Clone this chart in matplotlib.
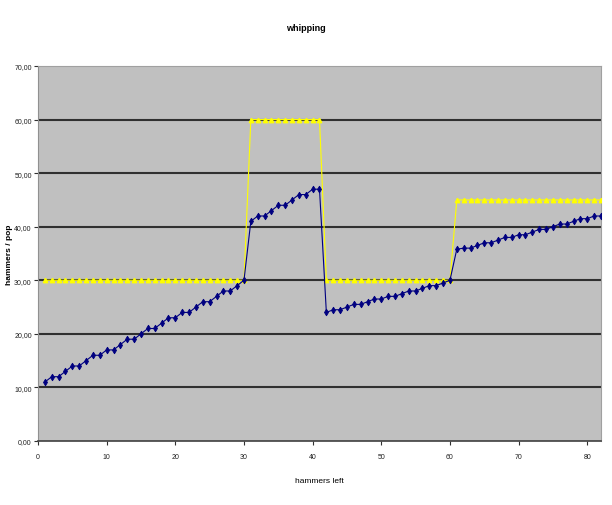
import matplotlib.pyplot as plt
from matplotlib.ticker import FuncFormatter


hammers_left = list(range(1, 83))

pop = [
    11, 12, 12, 13, 14, 14, 15, 16, 16, 17,
    17, 18, 19, 19, 20, 21, 21, 22, 23, 23,
    24, 24, 25, 26, 26, 27, 28, 28, 29, 30,
    41, 42, 42, 43, 44, 44, 45, 46, 46, 47, 47,
    24, 24.5, 24.5, 25, 25.5, 25.5, 26, 26.5, 26.5, 27,
    27, 27.5, 28, 28, 28.5, 29, 29, 29.5, 30,
    35.8, 36, 36, 36.5, 37, 37, 37.5, 38, 38, 38.5, 38.5,
    39, 39.5, 39.5, 40, 40.5, 40.5, 41, 41.5, 41.5, 42, 42,
]

limit = [30] * 30 + [60] * 11 + [30] * 19 + [45] * 22

FONT = ['Liberation Sans Narrow', 'Liberation Sans', 'DejaVu Sans']


def comma_fmt(v, pos):
    return f'{v:.2f}'.replace('.', ',')


fig = plt.figure(figsize=(6.12, 5.06), dpi=100)
ax = fig.add_axes([0.0621, 0.1265, 0.9199, 0.7411])
ax.set_facecolor('#c0c0c0')

ax.plot(hammers_left, limit, color='#ffff00', lw=0.8,
        marker='^', ms=3.2, mec='#ffff00', mfc='#ffff00', zorder=3)
ax.plot(hammers_left, pop, color='#000080', lw=0.8,
        marker='d', ms=3.4, mew=0.6, mec='#000080', mfc='#000080', zorder=4)

ax.set_xlim(0, 82)
ax.set_ylim(0, 70)
ax.set_xticks(range(0, 81, 10))
ax.set_yticks(range(0, 71, 10))
ax.yaxis.set_major_formatter(FuncFormatter(comma_fmt))

for y in range(10, 70, 10):
    ax.axhline(y, color='#303030', lw=1.5, zorder=1)

for side in ['top', 'right']:
    ax.spines[side].set_color('#a0a0a0')
ax.spines['left'].set_color('#909090')
ax.spines['bottom'].set_color('#404040')
ax.spines['bottom'].set_linewidth(1.2)

ax.tick_params(axis='both', direction='out', length=3, width=0.8,
               colors='#303030', labelsize=5, labelcolor='#202020')
ax.tick_params(axis='x', pad=6)
ax.tick_params(axis='y', pad=1.5)
for lbl in ax.get_xticklabels() + ax.get_yticklabels():
    lbl.set_family(FONT)

ax.set_xlabel('hammers left', family=FONT, fontsize=6, labelpad=12)
fig.text(0.016, 0.496, 'hammers / pop', family=FONT, fontsize=6,
         fontweight='bold', rotation=90, ha='center', va='center')
fig.text(0.5, 0.944, 'whipping', family=FONT, fontsize=6.5,
         fontweight='bold', ha='center', va='center')

fig.savefig('out.png', dpi=100)
plt.close()
